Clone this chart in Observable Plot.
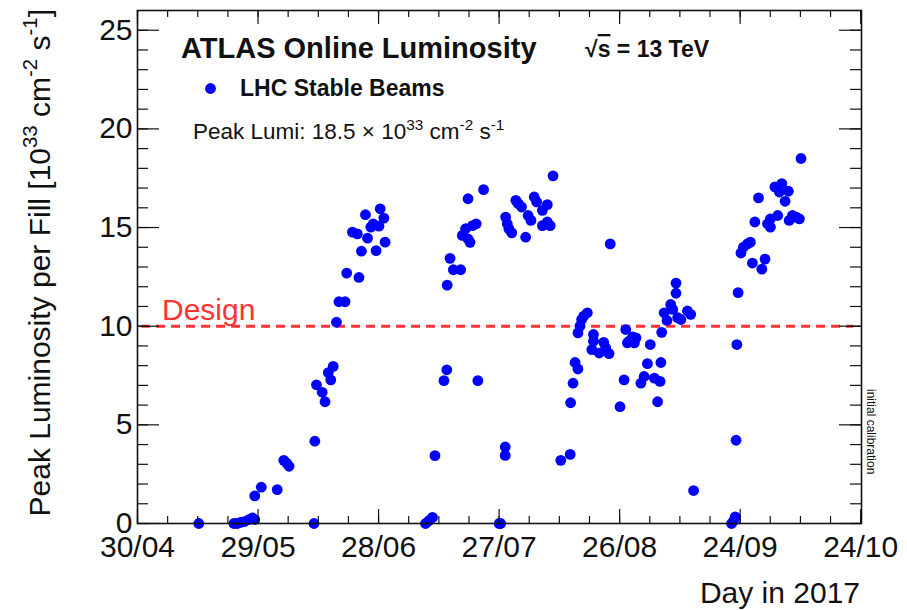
<!DOCTYPE html>
<html>
<head>
<meta charset="utf-8">
<script src="https://cdn.jsdelivr.net/npm/d3@7"></script>
<script src="https://cdn.jsdelivr.net/npm/@observablehq/plot@0.6"></script>
<style>
  body { margin: 0; background: #fff; }
  svg { display: block; }
  text { white-space: pre; }
</style>
</head>
<body>
<div id="chart"></div>
<script>
// Days after 30 April 2017 at which each LHC fill with stable beams reached its peak
const fillDay = [
  15.0, 23.6, 24.4, 25.2, 26.2, 27.3, 28.1, 28.7, 28.7, 30.3, 34.2, 35.8, 36.5, 37.1,
  43.2, 43.4, 43.8, 45.2, 45.9, 46.7, 47.3, 47.9, 48.7, 49.3, 50.8, 51.2, 52.6, 53.8,
  54.2, 54.8, 55.8, 56.3, 57.1, 57.7, 58.4, 59.1, 59.4, 60.3, 60.6,
  70.5, 71.3, 72.2, 72.8, 75.0, 75.7, 75.8, 76.5, 77.3, 79.1, 79.5, 80.3, 80.9, 80.9,
  81.4, 82.0, 82.9, 83.3, 84.7, 88.5, 88.9, 90.0, 90.0, 90.1, 90.5, 90.9, 91.6, 92.6,
  93.2, 94.0, 95.0, 95.6, 96.3, 97.1, 97.7, 99.1, 99.1, 100.3, 100.3, 101.0, 101.7,
  103.6, 105.9, 106.0, 106.6, 107.1, 107.8, 107.8, 108.3, 108.7, 109.2, 110.1, 111.2,
  111.6, 111.6, 113.0, 114.1, 114.6, 115.4, 115.7, 118.1, 119.1, 119.5, 119.9, 120.3,
  121.2, 121.6, 122.0, 123.2, 124.0, 124.8, 125.5, 126.5, 127.3, 127.9, 128.1, 128.3,
  128.9, 129.6, 130.5, 131.0, 131.8, 131.8, 132.2, 133.0, 134.6, 135.4, 136.1,
  145.4, 145.9, 146.3, 146.5, 146.7, 147.0, 147.7, 148.3, 149.3, 150.0, 150.5, 151.1,
  152.0, 152.8, 153.6, 154.2, 154.9, 154.9, 156.0, 156.7, 157.1, 157.7, 158.5, 159.3,
  159.5, 160.3, 161.2, 162.0, 162.4
];

// Peak luminosity of each fill [10^33 cm^-2 s^-1]
const peakLumi = [
  0, 0, 0, 0.05, 0.1, 0.2, 0.28, 0.2, 1.4, 1.84, 1.72, 3.2, 3.06, 2.9,
  0, 4.17, 7.03, 6.65, 6.17, 7.65, 7.28, 7.96, 10.2, 11.24, 11.24, 12.69, 14.77, 14.68,
  12.47, 13.8, 15.65, 14.46, 15.02, 15.19, 13.83, 15.07, 15.95, 15.48, 14.26,
  0, 0.14, 0.31, 3.44, 7.24, 7.79, 12.08, 13.44, 12.86, 12.86, 14.6, 14.94, 14.42, 16.46,
  14.25, 15.1, 15.19, 7.24, 16.92, 0, 0, 3.88, 3.45, 15.53, 15.19, 14.93, 14.73, 16.38,
  16.21, 16.04, 14.51, 15.61, 15.36, 16.55, 16.3, 15.87, 15.1, 16.16, 15.28, 15.1, 17.62,
  3.2, 3.5, 6.12, 7.11, 8.16, 7.83, 9.66, 10.0, 10.34, 10.51, 10.68, 8.81,
  9.58, 9.24, 8.64, 9.18, 8.9, 8.61, 14.17, 5.92, 7.28, 9.83, 9.15, 9.24,
  9.46, 9.15, 9.41, 7.11, 7.45, 8.1, 9.07, 7.37, 6.17, 7.2, 8.16, 9.69,
  10.68, 10.29, 11.1, 10.85, 12.18, 11.67, 10.43, 10.34, 10.77, 10.6, 1.67,
  0, 0.14, 0.34, 4.22, 9.07, 11.7, 13.71, 14.0, 14.17, 14.26, 13.2, 15.28,
  16.5, 12.89, 13.4, 15.19, 15.02, 15.44, 17.06, 15.61, 16.8, 17.23, 16.33, 16.84,
  15.36, 15.61, 15.53, 15.44, 18.5
];

// Time axis: starts 30 April, six divisions of 29.5 days each
const axisStart = Date.UTC(2017, 3, 30);
const axisDays = 177.2;
const majorStepDays = 29.5;
const majorDivisions = 6;
const minorPerMajor = 4;
const xTickFormat = "%d/%m";

// Luminosity axis
const yMax = 26.0;
const yMajor = [0, 5, 10, 15, 20, 25];
const yMinorStep = 1;

// LHC design luminosity reference line
const designLumi = 10;
const designFromDay = 1;
const designToDay = 175.3;

const dayToDate = d => new Date(axisStart + d * 864e5);
const fills = fillDay.map((d, i) => ({date: dayToDate(d), lumi: peakLumi[i]}));
const xMajor = d3.range(0, majorDivisions + 1).map(k => dayToDate(k * majorStepDays));
const xMinor = d3.range(0, majorDivisions * minorPerMajor + 1).map(k => dayToDate(k * majorStepDays / minorPerMajor));
const yMinor = d3.range(0, yMax, yMinorStep);

const FONT = "'Liberation Sans', Arial, Helvetica, sans-serif";
const ink = "#111";

const W = 907, H = 610;
const M = {left: 137, right: 46, top: 10, bottom: 87};
const innerW = W - M.left - M.right;
const innerH = H - M.top - M.bottom;

// Tick lengths (px) for major/minor ticks drawn inside the frame
const xMajorLen = 14, xMinorLen = 7, yMajorLen = 22, yMinorLen = 11;
const tickStyle = {stroke: ink, strokeWidth: 1.2};

const chart = Plot.plot({
  width: W,
  height: H,
  marginLeft: M.left,
  marginRight: M.right,
  marginTop: M.top,
  marginBottom: M.bottom,
  style: {fontFamily: FONT, background: "#fff", color: ink},
  x: {type: "utc", domain: [dayToDate(0), dayToDate(axisDays)]},
  y: {domain: [0, yMax]},
  marks: [
    Plot.ruleY([designLumi], {
      x1: dayToDate(designFromDay), x2: dayToDate(designToDay),
      stroke: "#ff3333", strokeWidth: 3, strokeDasharray: "9,6"
    }),
    Plot.dot(fills, {x: "date", y: "lumi", r: 5.4, fill: "#0000ff", stroke: "none"}),
    // inward-pointing ticks on all four sides of the frame
    Plot.tickX(xMajor, {insetTop: innerH - xMajorLen, ...tickStyle}),
    Plot.tickX(xMinor, {insetTop: innerH - xMinorLen, ...tickStyle}),
    Plot.tickX(xMajor, {insetBottom: innerH - xMajorLen, ...tickStyle}),
    Plot.tickX(xMinor, {insetBottom: innerH - xMinorLen, ...tickStyle}),
    Plot.tickY(yMajor, {insetRight: innerW - yMajorLen, ...tickStyle}),
    Plot.tickY(yMinor, {insetRight: innerW - yMinorLen, ...tickStyle}),
    Plot.tickY(yMajor, {insetLeft: innerW - yMajorLen, ...tickStyle}),
    Plot.tickY(yMinor, {insetLeft: innerW - yMinorLen, ...tickStyle}),
    // tick labels
    Plot.axisX(xMajor, {anchor: "bottom", tickSize: 0, tickPadding: 12, fontSize: 30,
      tickFormat: d3.utcFormat(xTickFormat), label: null}),
    Plot.axisY(yMajor, {anchor: "left", tickSize: 0, tickPadding: 5, fontSize: 30, label: null}),
    Plot.frame({stroke: ink, strokeWidth: 1.6}),
    // legend marker
    Plot.dot([0], {frameAnchor: "top-left", dx: 73, dy: 78, r: 5.4, fill: "#0000ff", stroke: "none"})
  ]
});

document.getElementById("chart").appendChild(chart);

// Rich text (superscripts, rotation) drawn on top of the plot
const svg = d3.select(chart);
const annot = svg.append("g").attr("font-family", FONT);

function richText({x, y, size, weight = "normal", fill = ink, anchor = "start", rotate = 0}, parts) {
  const t = annot.append("text")
    .attr("transform", `translate(${x},${y}) rotate(${rotate})`)
    .attr("font-size", size)
    .attr("font-weight", weight)
    .attr("fill", fill)
    .attr("text-anchor", anchor);
  let shift = 0;
  for (const p of parts) {
    const [str, sup, deco] = typeof p === "string" ? [p, false, null] : p;
    const target = sup ? -0.42 * size : 0;
    const span = t.append("tspan")
      .attr("font-size", sup ? 0.68 * size : size)
      .attr("dy", target - shift)
      .text(str);
    if (deco) span.attr("text-decoration", deco);
    shift = target;
  }
  return t;
}

richText({x: 181, y: 58, size: 29, weight: "bold"}, ["ATLAS Online Luminosity"]);
richText({x: 585, y: 57, size: 23, weight: "bold"}, ["√", ["s", false, "overline"], " = 13 TeV"]);
richText({x: 240, y: 96, size: 23, weight: "bold"}, ["LHC Stable Beams"]);
richText({x: 193, y: 139, size: 22.5}, [
  "Peak Lumi: 18.5 × 10", ["33", true], " cm", ["-2", true], " s", ["-1", true]
]);
richText({x: 162, y: 320, size: 30, fill: "#ff3333"}, ["Design"]);
richText({x: 867, y: 389, size: 12, rotate: 90}, ["initial calibration"]);

// Axis titles
richText({x: 860, y: 603, size: 30, anchor: "end"}, ["Day in 2017"]);
richText({x: 50, y: 9, size: 30, anchor: "end", rotate: -90}, [
  "Peak Luminosity per Fill [10", ["33", true], " cm", ["-2", true], " s", ["-1", true], "]"
]);
</script>
</body>
</html>
